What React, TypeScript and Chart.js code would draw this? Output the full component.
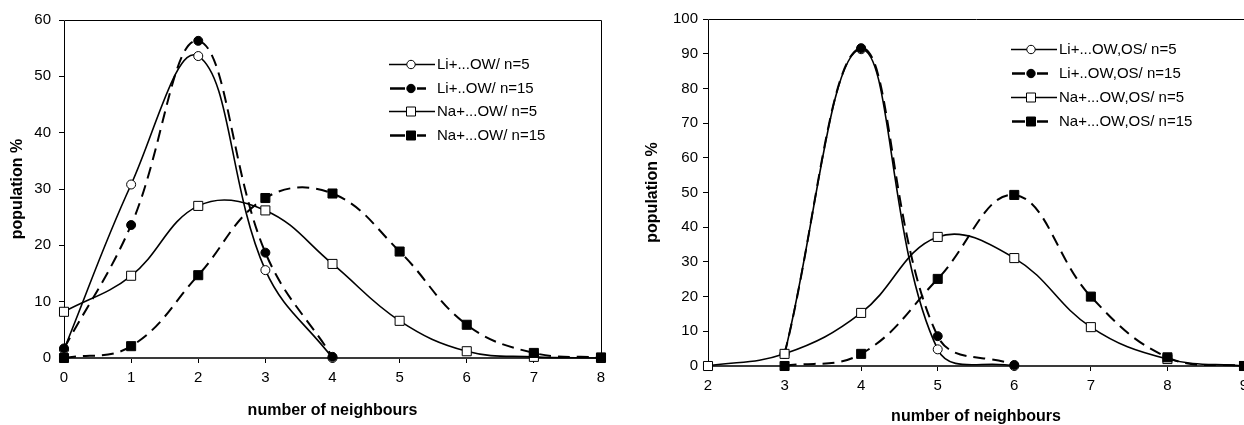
import React, { useEffect, useRef } from 'react';
import { Chart, registerables } from 'chart.js';
Chart.register(...registerables);

const FONT = "'Liberation Sans', Arial, sans-serif";

// ---------- Left chart data ----------
const leftLiX = [0, 1, 2, 3, 4];
const leftLiN5 = [1.5, 30.8, 53.6, 15.6, 0];
const leftLiN15 = [1.7, 23.6, 56.3, 18.7, 0.2];
const leftNaX = [0, 1, 2, 3, 4, 5, 6, 7, 8];
const leftNaN5 = [8.2, 14.6, 27.0, 26.2, 16.7, 6.6, 1.2, 0.2, 0];
const leftNaN15 = [0, 2.1, 14.7, 28.4, 29.2, 18.9, 5.9, 0.9, 0.1];
const leftLabels = ['Li+...OW/ n=5', 'Li+..OW/ n=15', 'Na+...OW/ n=5', 'Na+...OW/ n=15'];
const leftXRange = [0, 8];
const leftYRange = [0, 60];

// ---------- Right chart data ----------
const rightLiX = [3, 4, 5, 6];
const rightLiN5 = [3.5, 91.3, 4.8, 0];
const rightLiN15 = [3.5, 91.6, 8.6, 0.3];
const rightNaN5X = [2, 3, 4, 5, 6, 7, 8, 9];
const rightNaN5 = [0, 3.5, 15.3, 37.2, 31.1, 11.2, 2.0, 0];
const rightNaN15X = [3, 4, 5, 6, 7, 8, 9];
const rightNaN15 = [0, 3.5, 25.1, 49.3, 20.0, 2.5, 0];
const rightLabels = ['Li+...OW,OS/ n=5', 'Li+..OW,OS/ n=15', 'Na+...OW,OS/ n=5', 'Na+...OW,OS/ n=15'];
const rightXRange = [2, 9];
const rightYRange = [0, 100];

const xTitle = 'number of neighbours';
const yTitle = 'population %';

function series(
  label: string,
  xs: number[],
  ys: number[],
  filled: boolean,
  shape: string,
  dashed: boolean,
  order: number
) {
  return {
    label,
    order,
    data: xs.map((x, i) => ({ x, y: ys[i] })),
    borderColor: '#000',
    borderWidth: dashed ? 2 : 1.6,
    borderDash: dashed ? [12, 7] : [],
    pointStyle: shape,
    pointRadius: shape === 'rect' ? 6.4 : 4.5,
    pointBackgroundColor: filled ? '#000' : '#fff',
    pointBorderColor: '#000',
    pointBorderWidth: 1,
    tension: 0.4,
    fill: false,
    clip: false as any,
  };
}

const framePlugin = {
  id: 'frame',
  beforeDatasetsDraw(chart: any) {
    const { ctx, chartArea: a } = chart;
    ctx.save();
    ctx.strokeStyle = '#000';
    ctx.lineWidth = 1;
    ctx.beginPath();
    ctx.moveTo(Math.round(a.left) + 0.5, a.bottom);
    ctx.lineTo(Math.round(a.left) + 0.5, Math.round(a.top) + 0.5);
    ctx.lineTo(Math.round(a.right) + 0.5, Math.round(a.top) + 0.5);
    ctx.lineTo(Math.round(a.right) + 0.5, a.bottom);
    ctx.stroke();
    ctx.strokeStyle = '#3a3a3a';
    ctx.lineWidth = 2;
    ctx.beginPath();
    ctx.moveTo(a.left, Math.round(a.bottom));
    ctx.lineTo(a.right + 1, Math.round(a.bottom));
    ctx.stroke();
    ctx.restore();
  },
};

function legendPlugin(pos: { x0: number; x1: number; cx: number; tx: number; y0: number; dy: number }) {
  return {
    id: 'customLegend',
    afterDraw(chart: any) {
      const ctx = chart.ctx;
      chart.data.datasets.forEach((ds: any, i: number) => {
        const y = Math.round(pos.y0 + i * pos.dy) + 0.5;
        const dashed = ds.borderDash && ds.borderDash.length > 0;
        ctx.save();
        ctx.strokeStyle = '#000';
        ctx.lineWidth = dashed ? 2.4 : 1.6;
        ctx.beginPath();
        if (dashed) {
          ctx.moveTo(pos.x0 + 1, y);
          ctx.lineTo(pos.cx - 6, y);
          ctx.moveTo(pos.cx + 6, y);
          ctx.lineTo(pos.x1 - 9, y);
        } else {
          ctx.moveTo(pos.x0, y);
          ctx.lineTo(pos.x1, y);
        }
        ctx.stroke();
        ctx.fillStyle = ds.pointBackgroundColor;
        ctx.lineWidth = 1;
        ctx.beginPath();
        if (ds.pointStyle === 'rect') {
          ctx.rect(pos.cx - 4.5, y - 4.5, 9, 9);
        } else {
          ctx.arc(pos.cx, y, 4.2, 0, Math.PI * 2);
        }
        ctx.fill();
        ctx.stroke();
        ctx.fillStyle = '#000';
        ctx.font = `15px ${FONT}`;
        ctx.textBaseline = 'middle';
        ctx.textAlign = 'left';
        ctx.fillText(ds.label, pos.tx, y);
        ctx.restore();
      });
    },
  };
}

function makeConfig(opts: {
  datasets: any[];
  xr: number[];
  yr: number[];
  padding: any;
  yWidth: number;
  xHeight: number;
  yTitlePad: number;
  xTitlePad: number;
  yTickPad: number;
  legend: any;
}) {
  const tickFont = { family: FONT, size: 15 };
  const titleFont = { family: FONT, size: 16, weight: 'bold' as const };
  return {
    type: 'line' as const,
    data: { datasets: opts.datasets },
    options: {
      responsive: false,
      animation: false as const,
      layout: { padding: opts.padding },
      elements: { line: { capBezierPoints: false } },
      plugins: { legend: { display: false }, tooltip: { enabled: false } },
      scales: {
        x: {
          type: 'linear' as const,
          min: opts.xr[0],
          max: opts.xr[1],
          ticks: { stepSize: 1, color: '#000', font: tickFont, padding: 6 },
          grid: { display: true, drawOnChartArea: false, drawTicks: true, tickLength: 5, color: '#000' },
          border: { display: false },
          title: { display: true, text: xTitle, color: '#000', font: titleFont, padding: { top: 0, bottom: opts.xTitlePad } },
          afterFit: (s: any) => {
            s.height = opts.xHeight;
          },
        },
        y: {
          type: 'linear' as const,
          min: opts.yr[0],
          max: opts.yr[1],
          ticks: { stepSize: 10, color: '#000', font: tickFont, padding: opts.yTickPad },
          grid: { display: true, drawOnChartArea: false, drawTicks: true, tickLength: 5, color: '#000' },
          border: { display: false },
          title: { display: true, text: yTitle, color: '#000', font: titleFont, padding: { top: opts.yTitlePad, bottom: 0 } },
          afterFit: (s: any) => {
            s.width = opts.yWidth;
          },
        },
      },
    },
    plugins: [framePlugin, opts.legend],
  };
}

export default function App() {
  const leftRef = useRef<HTMLCanvasElement>(null);
  const rightRef = useRef<HTMLCanvasElement>(null);

  useEffect(() => {
    const left = new Chart(
      leftRef.current as HTMLCanvasElement,
      makeConfig({
        datasets: [
          series(leftLabels[0], leftLiX, leftLiN5, false, 'circle', false, 3),
          series(leftLabels[1], leftLiX, leftLiN15, true, 'circle', true, 2),
          series(leftLabels[2], leftNaX, leftNaN5, false, 'rect', false, 1),
          series(leftLabels[3], leftNaX, leftNaN15, true, 'rect', true, 0),
        ],
        xr: leftXRange,
        yr: leftYRange,
        padding: { left: 0, right: 19, top: 20, bottom: 0 },
        yWidth: 64,
        xHeight: 67,
        yTitlePad: 8,
        xTitlePad: 5,
        yTickPad: 8,
        legend: legendPlugin({ x0: 389, x1: 435, cx: 411, tx: 437, y0: 64, dy: 23.7 }),
      }) as any
    );
    const right = new Chart(
      rightRef.current as HTMLCanvasElement,
      makeConfig({
        datasets: [
          series(rightLabels[0], rightLiX, rightLiN5, false, 'circle', false, 3),
          series(rightLabels[1], rightLiX, rightLiN15, true, 'circle', true, 2),
          series(rightLabels[2], rightNaN5X, rightNaN5, false, 'rect', false, 1),
          series(rightLabels[3], rightNaN15X, rightNaN15, true, 'rect', true, 0),
        ],
        xr: rightXRange,
        yr: rightYRange,
        padding: { left: 0, right: 26, top: 19, bottom: 0 },
        yWidth: 78,
        xHeight: 66,
        yTitlePad: 13,
        xTitlePad: 6,
        yTickPad: 5,
        legend: legendPlugin({ x0: 381, x1: 427, cx: 401, tx: 429, y0: 49.3, dy: 23.8 }),
      }) as any
    );
    return () => {
      left.destroy();
      right.destroy();
    };
  }, []);

  return (
    <div
      style={{
        position: 'fixed',
        left: 0,
        top: 0,
        width: 1244,
        height: 425,
        overflow: 'hidden',
        background: '#fff',
      }}
    >
      <canvas
        ref={leftRef}
        width={620}
        height={425}
        style={{ position: 'absolute', left: 0, top: 0, width: 620, height: 425 }}
      />
      <canvas
        ref={rightRef}
        width={640}
        height={432}
        style={{ position: 'absolute', left: 630, top: 0, width: 640, height: 432 }}
      />
    </div>
  );
}
